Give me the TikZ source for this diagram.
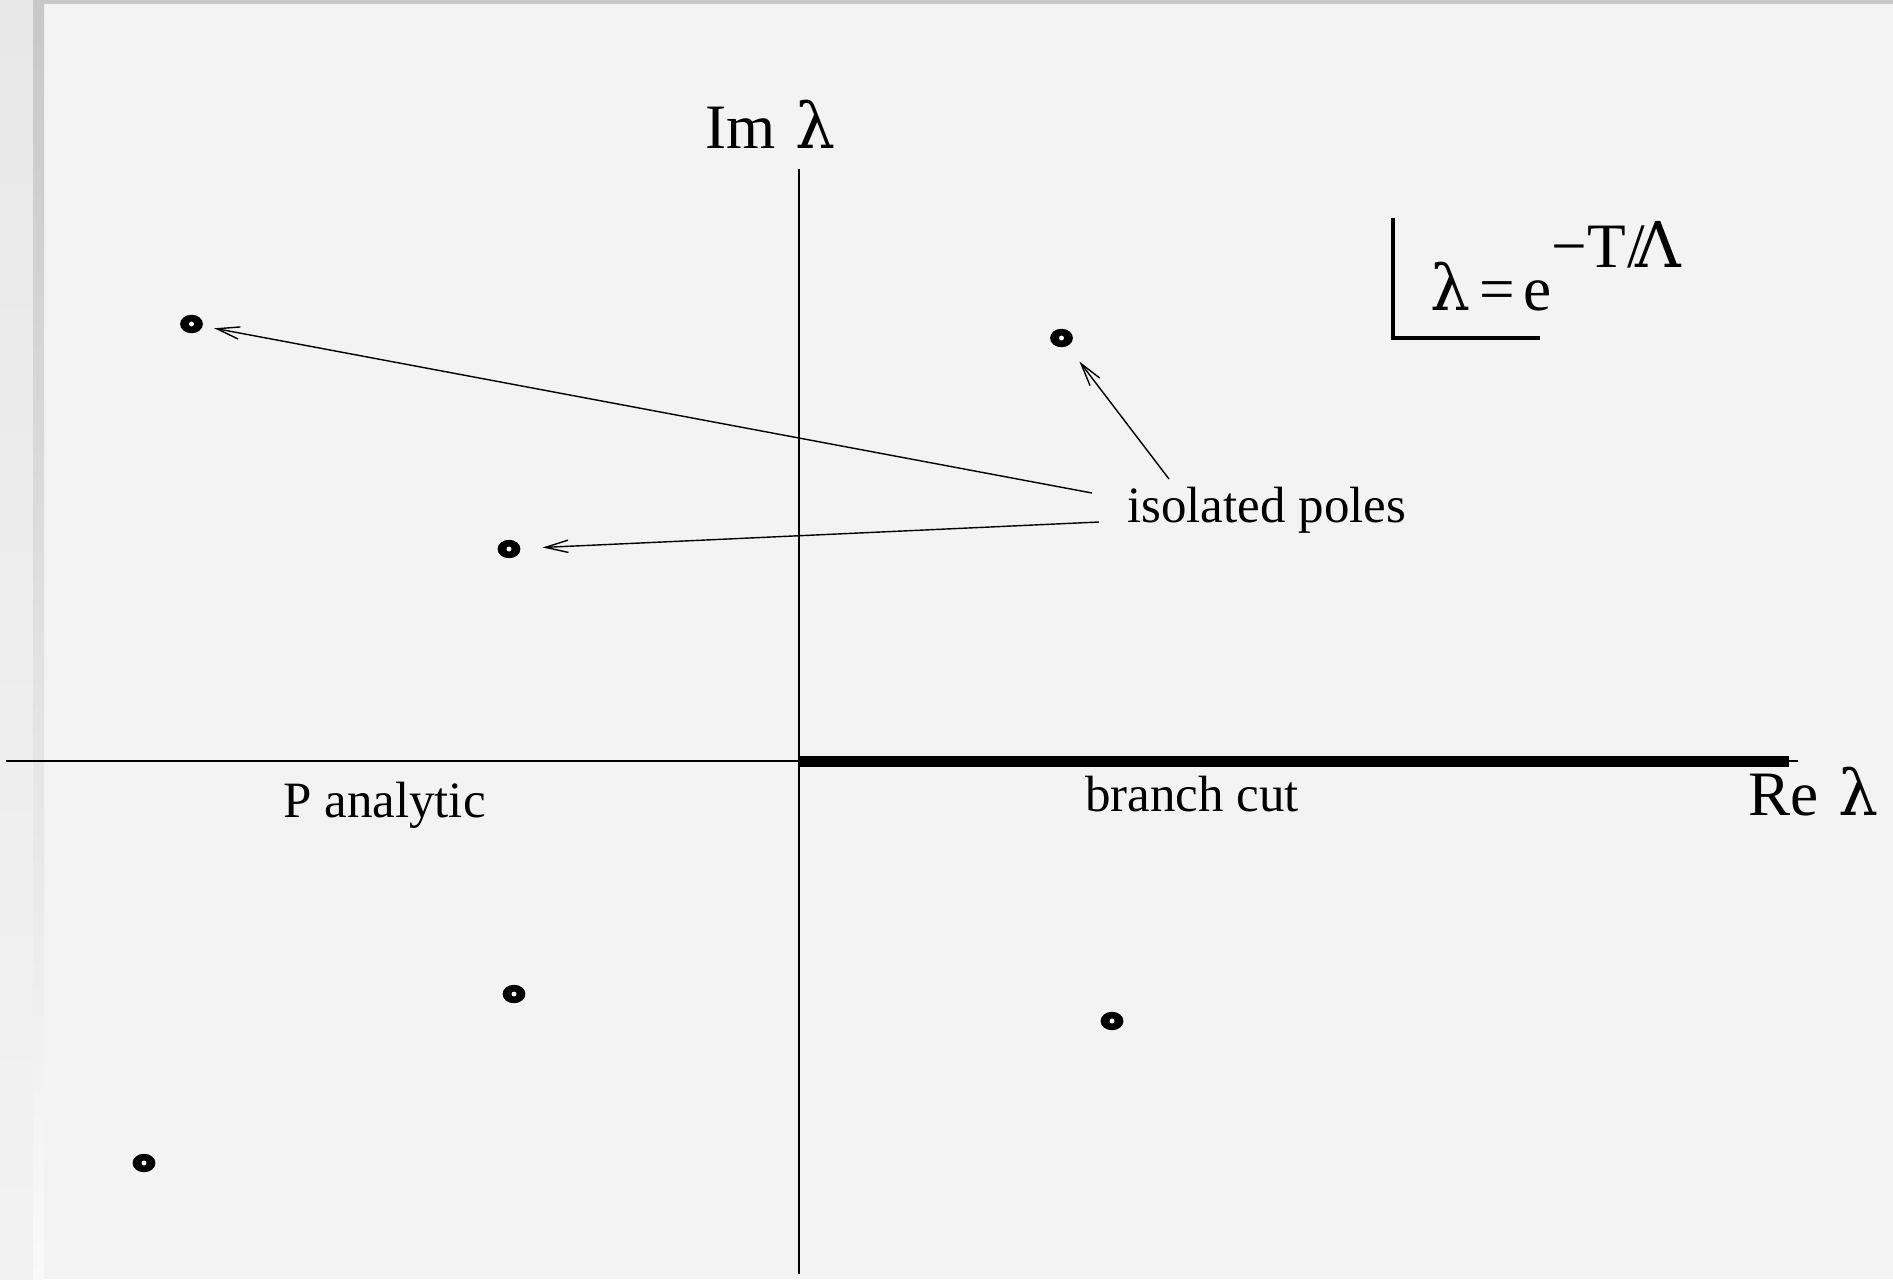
\documentclass[tikz,border=0pt]{standalone}
\usepackage{fontspec}
\setmainfont{Liberation Serif}
\newfontfamily\greekfont{DejaVu Serif}
\usetikzlibrary{arrows.meta,shapes.geometric}
\definecolor{PageGray}{HTML}{F3F3F3}
\definecolor{EdgeGray}{HTML}{C8C8C8}
\newcommand{\lam}{{\greekfont λ}}

\begin{document}
\begin{tikzpicture}[
    x=0.02cm,y=-0.02cm,
    axis/.style={line width=0.9pt,draw=black},
    cut/.style={line width=6.2pt,draw=black},
    pole/.style={ellipse,fill=black,minimum width=13pt,minimum height=10.5pt,inner sep=0pt,
      path picture={\fill[white] (path picture bounding box.center) circle (1.4pt);}},
    arr/.style={-{Straight Barb[length=13pt,width=7pt]},line width=0.8pt,draw=black},
    lbl/.style={anchor=base west,inner sep=0pt,font=\fontsize{29}{34}\selectfont},
    big/.style={anchor=base west,inner sep=0pt,font=\fontsize{36}{40}\selectfont}
  ]
  % page background
  \useasboundingbox (0,0) rectangle (1893,1279);
  \fill[PageGray] (0,0) rectangle (1893,1279);
  \fill[EdgeGray] (33,0) rectangle (1893,4);
  \shade[top color=black!9,middle color=black!23,bottom color=black!5] (0,0) rectangle (33,1279);
  \shade[top color=EdgeGray,bottom color=black!2] (33,4) rectangle (44,1279);
  % axes
  \draw[axis] (799,169) -- (799,1274);
  \draw[axis] (6,761) -- (1798,761);
  \draw[cut] (799,761.5) -- (1789,761.5);
  \node[big] (im) at (705,148) {Im\kern0.32em\lam};
  \node[big] (re) at (1748,815) {Re\kern0.32em\lam};
  \node[lbl] (analytic) at (283,817) {P analytic};
  \node[lbl] (branch) at (1085,811) {branch cut};
  % poles
  \node[pole] (p1) at (191.5,324) {};
  \node[pole] (p2) at (1061.5,338) {};
  \node[pole] (p3) at (509,549) {};
  \node[pole] (p4) at (514,994) {};
  \node[pole] (p5) at (1112,1021) {};
  \node[pole] (p6) at (144,1163) {};
  \node[lbl] (poles) at (1127,522) {isolated poles};
  \coordinate (t1) at (1092,493);
  \coordinate (t2) at (1099,522);
  \coordinate (t3) at (1169,479);
  \draw[arr,shorten >=6.5pt] (t1) -- (p1);
  \draw[arr,shorten >=12.5pt] (t2) -- (p3);
  \draw[arr,shorten >=11pt] (t3) -- (p2);
  % definition of lambda
  \draw[line width=2.8pt] (1393,218) |- (1540,338);
  \node[big] (formula) at (1430,310)
    {\lam\kern5pt=\kern5pt e\raisebox{24.4pt}{−T\kern0.03em/\kern-0.16em{\greekfont Λ}}};
\end{tikzpicture}
\end{document}
